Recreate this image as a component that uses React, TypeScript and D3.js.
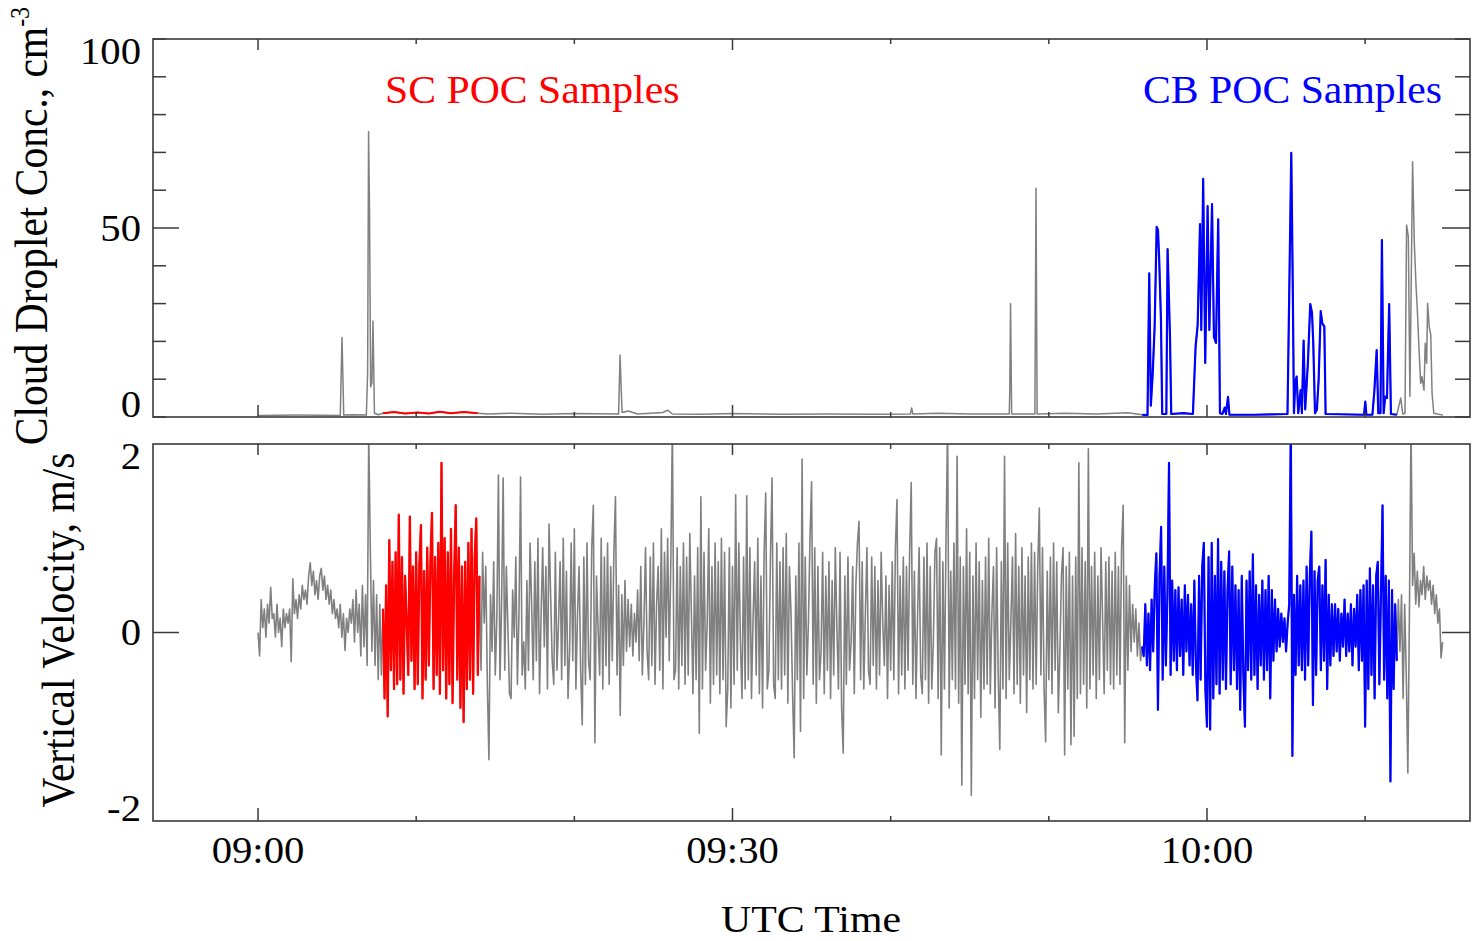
import React from 'react';
import * as d3 from 'd3';

// ---------- data ----------
// time axis in minutes after 09:00 UTC
const timeDomain: [number, number] = [-6.64, 76.63];
const majorTimeTicks = [0, 30, 60];
const timeTickLabels = ['09:00', '09:30', '10:00'];
const minorTimeTicks = [0, 10, 20, 30, 40, 50, 60, 70];

const concDomain: [number, number] = [0, 100];
const concMinorTicks = [0, 10, 20, 30, 40, 50, 60, 70, 80, 90, 100];
const concLabelTicks = [0, 50, 100];

const velDomain: [number, number] = [-2, 2];
const velLabelTicks = [-2, 0, 2];

// sampling windows (minutes after 09:00)
const scWindow: [number, number] = [7.9, 14.0];
const cbWindow: [number, number] = [55.9, 72.0];

// vertical velocity, cm/s (= m/s * 100), every 0.1 min from 09:00
const velocityStepMin = 0.1;
const velocityCenti = [
  0, -25, 35, 5, 25, -5, 30, 10, 48, 15, // 09:00
  20, -5, 30, 0, 15, -15, 25, 5, 20, 10,
  25, -31, 57, 20, 35, 15, 40, 25, 50, 35,
  45, 30, 60, 74, 50, 65, 40, 55, 35, 60,
  68, 45, 60, 35, 50, 30, 45, 20, 35, 15,
  25, 5, 30, -5, 20, -19, 15, 0, 25, 10, // 09:05
  35, -10, 45, 0, 30, -25, 50, -15, 40, -35,
  210, 90, -20, 55, -35, 40, -50, 30, -45, 25,
  -70, 50, -89, 98, -40, 75, -60, 85, -55, 125,
  -50, 80, -65, 60, 10, -45, 123, -30, 70, -60,
  85, -55, 70, 114, -70, 65, -50, 90, -35, 75, // 09:10
  127, -60, 80, -45, 95, -65, 180, -40, 100, -70,
  85, -55, 110, -75, 60, 135, -50, 90, -80, 70,
  -95, 75, -60, 95, -50, 110, -65, 80, 121, -45,
  60, -40, 85, 10, 70, -55, -135, 40, -20, 75,
  -45, 15, 167, -50, 30, 164, -40, 70, 5, -65, // 09:15
  -70, 45, -5, 80, -55, 20, 165, -45, -10, -60,
  55, -40, 95, 30, -50, 75, -30, 100, -65, 20,
  90, -15, 70, -60, 115, 40, -30, -55, 85, -40,
  10, 75, -50, 100, -35, 65, -70, -20, 95, -30,
  110, -60, 20, 70, -40, -98, 80, -55, 95, -30, // 09:20
  -50, 90, 135, -117, 60, 5, -45, 100, -60, 80,
  -35, 95, -55, 70, -30, 85, 144, -45, 50, -88,
  40, -35, 55, -20, 35, -15, 30, -25, 20, -10,
  45, -30, 70, -45, 10, 90, -20, -50, 80, -35,
  95, -55, 30, 70, -40, 110, -60, 85, -5, 100, // 09:25
  -30, 75, 220, -50, -40, 90, -60, 70, -35, 95,
  -55, 80, -45, 105, 20, -65, 60, -50, 90, -107,
  144, -60, 85, -40, 10, 110, -75, 70, -55, 95,
  -45, 75, -65, 100, -50, 85, -100, -60, 90, -80,
  70, -55, 146, -40, 95, -10, -70, 80, -60, 145, // 09:30
  -50, 90, -70, 15, 75, -45, 100, -65, 60, -80,
  85, 148, -60, -40, 80, 164, -55, -70, 95, -50,
  75, -60, 90, -45, 105, -75, 70, 20, -65, -133,
  60, -50, 95, -105, 184, -70, 80, -45, 10, 100,
  160, -55, 90, -75, 70, -50, -20, 85, -65, 60, // 09:35
  -40, 75, -70, 55, -45, 90, 5, -60, 85, -80,
  -128, 60, -55, 80, -40, -10, 70, -65, 50, 95,
  118, -50, 75, -60, 20, 90, -40, -55, 80, -35,
  70, -60, 55, -45, 85, 10, -35, 60, -70, 50,
  -40, 75, -50, 90, 141, -65, 60, -45, 80, -60, // 09:40
  70, -40, 85, 159, -55, 65, -70, 15, 90, -45,
  -65, 80, -50, 95, -75, 70, -60, -10, 85, 100,
  -70, 90, -130, 75, -60, 100, 220, -80, 65, -50,
  95, -60, 187, -75, 80, -162, 70, -55, 110, -65,
  85, -173, 60, -70, 95, -50, 75, -90, 55, -60, // 09:45
  80, -55, 100, -65, 20, 70, -80, 90, -45, -124,
  75, -60, 187, -70, 95, -50, 10, 80, -65, 105,
  -55, 70, -75, 90, -45, 60, -85, 80, -50, 95,
  -60, 85, -55, 70, 132, -45, 90, -60, -116, 65,
  -50, 80, -65, 95, -40, 75, -85, -20, 60, 90, // 09:50
  -130, 70, -60, 85, -119, 60, -110, 80, -70, 180,
  -65, 90, -55, 75, -80, 195, -60, 70, -45, 85,
  -70, 60, -50, 90, 15, -65, 75, -40, 80, -55,
  65, -60, 85, -45, 70, -55, 90, 135, -117, 60,
  -40, 50, -20, 30, -10, 25, -25, 10, -30, -15, // 09:55
  -25, 30, -35, 20, -40, 35, -20, 50, 84, -82,
  60, 112, -50, 70, -35, 40, 180, -45, 55, -30,
  45, -40, 48, -25, 35, -45, 50, -20, 40, -35,
  30, -45, 55, -35, -72, 60, -50, 70, 95, -60,
  -100, 80, -103, 95, -70, 60, -55, 99, -65, 75, // 10:00
  -50, 65, -60, 45, 86, -55, 70, -40, 50, -60,
  45, -82, 60, -45, -100, 55, -40, 65, -50, 83,
  -45, 50, -60, 40, -35, 55, -50, 45, -40, 60,
  -70, 45, -30, 35, -20, 25, -15, 20, -10, 15,
  -20, 10, 30, 220, -131, 40, -45, 60, -35, 50, // 10:05
  -40, 55, -50, 70, -35, 60, 107, -77, 65, -45,
  55, 70, -40, 50, -30, 77, -60, 40, -35, 30,
  -25, 30, -20, 25, -30, 20, -15, 35, -25, 20,
  -20, 30, -35, 25, -15, 40, -40, 45, -30, 50,
  -100, 55, -60, 68, -45, 50, -70, 60, 75, -55, // 10:10
  40, 135, -50, 60, -70, 55, -158, 45, -60, 30,
  -30, 35, -20, 40, -70, 30, -45, -149, 20, 220,
  50, 84, 30, 65, 27, 55, 40, 70, 35, 60,
  45, 55, 30, 50, 20, 40, 10, 25, -27, -10,
];

// cloud droplet concentration, [minutes after 09:00, cm^-3]
const concBeforeSC: [number, number][] = [
  [0, 0.4], [2.5, 0.5], [5.2, 0.4], [5.31, 21], [5.42, 0.5], [6.0, 0.6], [6.85, 0.5],
  [6.93, 11.6], [6.99, 75.5], [7.05, 54.8], [7.12, 8], [7.2, 9], [7.27, 25.4], [7.36, 1], [7.6, 0.6],
];
const concSC: [number, number][] = [
  [7.9, 1.0], [8.6, 1.3], [9.3, 0.9], [10.1, 1.2], [10.8, 0.9], [11.5, 1.4], [12.2, 1.0], [13.0, 1.3], [13.9, 1.0],
];
const concBetween: [number, number][] = [
  [14.5, 0.8], [16, 1.0], [18, 0.7], [20, 0.9], [22.8, 0.8], [22.89, 16.4], [22.96, 8], [23.02, 1.2],
  [23.4, 1.6], [24, 0.8], [25.6, 1.2], [25.9, 1.8], [26.2, 0.8], [28, 0.7], [30, 0.9], [33, 0.7], [36, 0.8],
  [39, 0.7], [41.25, 0.8], [41.33, 2.4], [41.4, 0.8], [43, 1.0], [45, 0.8], [47.5, 0.8], [47.53, 6.6],
  [47.58, 30], [47.65, 0.8], [49.12, 0.8], [49.19, 60.5], [49.26, 0.8], [51, 1.0], [53, 0.8], [55, 1.1],
];
const concCB: [number, number][] = [
  [55.9, 0.6], [56.24, 0.5], [56.35, 38], [56.45, 3], [56.57, 11.6], [56.69, 23.9], [56.82, 50.3],
  [56.9, 49.5], [56.98, 41.5], [57.09, 25.7], [57.17, 0.8], [57.43, 0.8], [57.51, 44.4], [57.66, 21.3],
  [57.74, 0.8], [58.5, 1.0], [59.11, 0.8], [59.28, 18.6], [59.41, 24.3], [59.56, 51], [59.64, 23],
  [59.76, 63], [59.89, 14.3], [60.04, 55.8], [60.15, 23], [60.32, 56.3], [60.44, 21.2], [60.57, 19.6],
  [60.71, 52.3], [60.82, 1], [60.98, 0.8], [61.12, 2.5], [61.2, 0.8], [61.33, 5.3], [61.42, 0.6],
  [63, 0.6], [65.09, 0.8], [65.33, 69.9], [65.42, 36], [65.5, 1], [65.58, 9], [65.67, 10.7], [65.77, 1],
  [65.92, 7.1], [66.0, 1], [66.11, 20.2], [66.21, 2], [66.38, 14.3], [66.53, 29.9], [66.64, 27.6],
  [66.72, 19.6], [66.83, 1], [66.95, 2], [67.06, 9.8], [67.19, 28], [67.29, 24.8], [67.42, 23.9],
  [67.5, 0.8], [69.93, 0.6], [70.01, 4.1], [70.08, 0.6], [70.46, 0.6], [70.58, 6.7], [70.73, 17.7],
  [70.83, 1], [70.97, 1], [71.06, 46.8], [71.17, 1], [71.27, 5.4], [71.38, 5], [71.52, 29.9],
  [71.63, 0.8], [72.0, 0.6],
];
const concAfterCB: [number, number][] = [
  [72.25, 5], [72.38, 0.8], [72.52, 1], [72.62, 50.8], [72.73, 47.7], [72.83, 5.4], [73.0, 67.5],
  [73.11, 46], [73.22, 34.5], [73.3, 28.3], [73.38, 20.4], [73.51, 8.9], [73.59, 10.7], [73.72, 7.1],
  [73.8, 19.5], [73.89, 14.2], [73.95, 30.1], [74.05, 23.9], [74.15, 21.7], [74.23, 6.3], [74.34, 1],
  [74.92, 0.5],
];

// ---------- chart ----------
const FONT = '"Liberation Serif", "Times New Roman", serif';
const AXIS = '#3a3a3a';
const GREY = '#808080';

export default function App() {
  const left = 153, right = 1470;
  const topP = { top: 39, bottom: 417 };
  const botP = { top: 444, bottom: 821 };

  const x = d3.scaleLinear().domain(timeDomain).range([left, right]);
  const yC = d3.scaleLinear().domain(concDomain).range([topP.bottom, topP.top]);
  const yV = d3.scaleLinear().domain(velDomain).range([botP.bottom, botP.top]);

  const velocity: [number, number][] = velocityCenti.map((v, i) => [i * velocityStepMin, v / 100]);
  const conc: [number, number][] = [...concBeforeSC, ...concSC, ...concBetween, ...concCB, ...concAfterCB];

  const inWin = (w: [number, number]) => (d: [number, number]) => d[0] >= w[0] - 1e-6 && d[0] <= w[1] + 1e-6;

  const lineC = d3.line<[number, number]>().x(d => x(d[0])).y(d => yC(d[1]));
  const lineV = d3.line<[number, number]>().x(d => x(d[0])).y(d => yV(d[1]));

  const clampLabel = (y: number, top: number, bottom: number) => Math.min(Math.max(y, top + 12.5), bottom - 13);

  const xTickMarks = (yEdge: number, dir: 1 | -1, majorLen: number, minorLen: number) =>
    minorTimeTicks.map(t => {
      const len = majorTimeTicks.includes(t) ? majorLen : minorLen;
      return <line key={`${yEdge}-${t}`} x1={x(t)} x2={x(t)} y1={yEdge} y2={yEdge + dir * len} stroke={AXIS} strokeWidth={1.5} />;
    });

  return (
    <svg width={1475} height={941} style={{ position: 'absolute', left: 0, top: 0, background: '#fff' }} fontFamily={FONT}>
      <defs>
        <clipPath id="clipTop"><rect x={left} y={topP.top} width={right - left} height={topP.bottom - topP.top} /></clipPath>
        <clipPath id="clipBot"><rect x={left} y={botP.top} width={right - left} height={botP.bottom - botP.top} /></clipPath>
      </defs>
      <rect width={1475} height={941} fill="#fff" />

      {/* top panel data */}
      <g clipPath="url(#clipTop)" fill="none" strokeLinejoin="round">
        <path d={lineC(conc) ?? ''} stroke={GREY} strokeWidth={1.5} />
        <path d={lineC(conc.filter(inWin(scWindow))) ?? ''} stroke="#ff0000" strokeWidth={2} />
        <path d={lineC(conc.filter(inWin(cbWindow))) ?? ''} stroke="#0000ff" strokeWidth={2.2} />
      </g>

      {/* bottom panel data */}
      <g clipPath="url(#clipBot)" fill="none" strokeLinejoin="round">
        <path d={lineV(velocity) ?? ''} stroke={GREY} strokeWidth={1.6} />
        <path d={lineV(velocity.filter(inWin(scWindow))) ?? ''} stroke="#ff0000" strokeWidth={2.3} />
        <path d={lineV(velocity.filter(inWin(cbWindow))) ?? ''} stroke="#0000ff" strokeWidth={2.2} />
      </g>

      {/* frames */}
      <rect x={left} y={topP.top} width={right - left} height={topP.bottom - topP.top} fill="none" stroke={AXIS} strokeWidth={1.6} />
      <rect x={left} y={botP.top} width={right - left} height={botP.bottom - botP.top} fill="none" stroke={AXIS} strokeWidth={1.6} />

      {/* top panel y ticks */}
      {concMinorTicks.map(v => {
        const major = v === 50;
        return (
          <g key={`cy${v}`}>
            <line x1={left} x2={left + (major ? 26 : 13)} y1={yC(v)} y2={yC(v)} stroke={AXIS} strokeWidth={1.5} />
            <line x1={right} x2={right - (major ? 28 : 15)} y1={yC(v)} y2={yC(v)} stroke={AXIS} strokeWidth={1.5} />
          </g>
        );
      })}
      {concLabelTicks.map(v => (
        <text key={`cl${v}`} transform={`translate(141,${clampLabel(yC(v), topP.top, topP.bottom) + 12.5}) scale(1.1,1)`}
          textAnchor="end" fontSize={37} fill="#000">{v}</text>
      ))}

      {/* bottom panel y ticks */}
      <line x1={left} x2={left + 26} y1={yV(0)} y2={yV(0)} stroke={AXIS} strokeWidth={1.5} />
      <line x1={right} x2={right - 28} y1={yV(0)} y2={yV(0)} stroke={AXIS} strokeWidth={1.5} />
      {velLabelTicks.map(v => (
        <text key={`vl${v}`} transform={`translate(141,${clampLabel(yV(v), botP.top, botP.bottom) + 12.5}) scale(1.1,1)`}
          textAnchor="end" fontSize={37} fill="#000">{v}</text>
      ))}

      {/* x ticks */}
      {xTickMarks(topP.top, 1, 11, 5)}
      {xTickMarks(topP.bottom, -1, 12, 5)}
      {xTickMarks(botP.top, 1, 11, 5)}
      {xTickMarks(botP.bottom, -1, 13, 5)}

      {majorTimeTicks.map((t, i) => (
        <text key={`xl${t}`} transform={`translate(${x(t)},863) scale(1.1,1)`} textAnchor="middle" fontSize={37} fill="#000">
          {timeTickLabels[i]}
        </text>
      ))}

      {/* axis titles */}
      <text transform="translate(811,932) scale(1.1,1)" textAnchor="middle" fontSize={38} fill="#000">UTC Time</text>
      <text transform="translate(47,226) scale(1.1,1) rotate(-90)" textAnchor="middle" fontSize={41.5} fill="#000">
        Cloud Droplet Conc., cm<tspan dy={-16} fontSize={24}>-3</tspan>
      </text>
      <text transform="translate(74,630) scale(1.1,1) rotate(-90)" textAnchor="middle" fontSize={41.5} fill="#000">
        Vertical Velocity, m/s
      </text>

      {/* annotations */}
      <text transform="translate(385,103) scale(1.07,1)" fontSize={39} fill="#ff0000">SC POC Samples</text>
      <text transform="translate(1143,103) scale(1.07,1)" fontSize={39} fill="#0000ff">CB POC Samples</text>
    </svg>
  );
}
